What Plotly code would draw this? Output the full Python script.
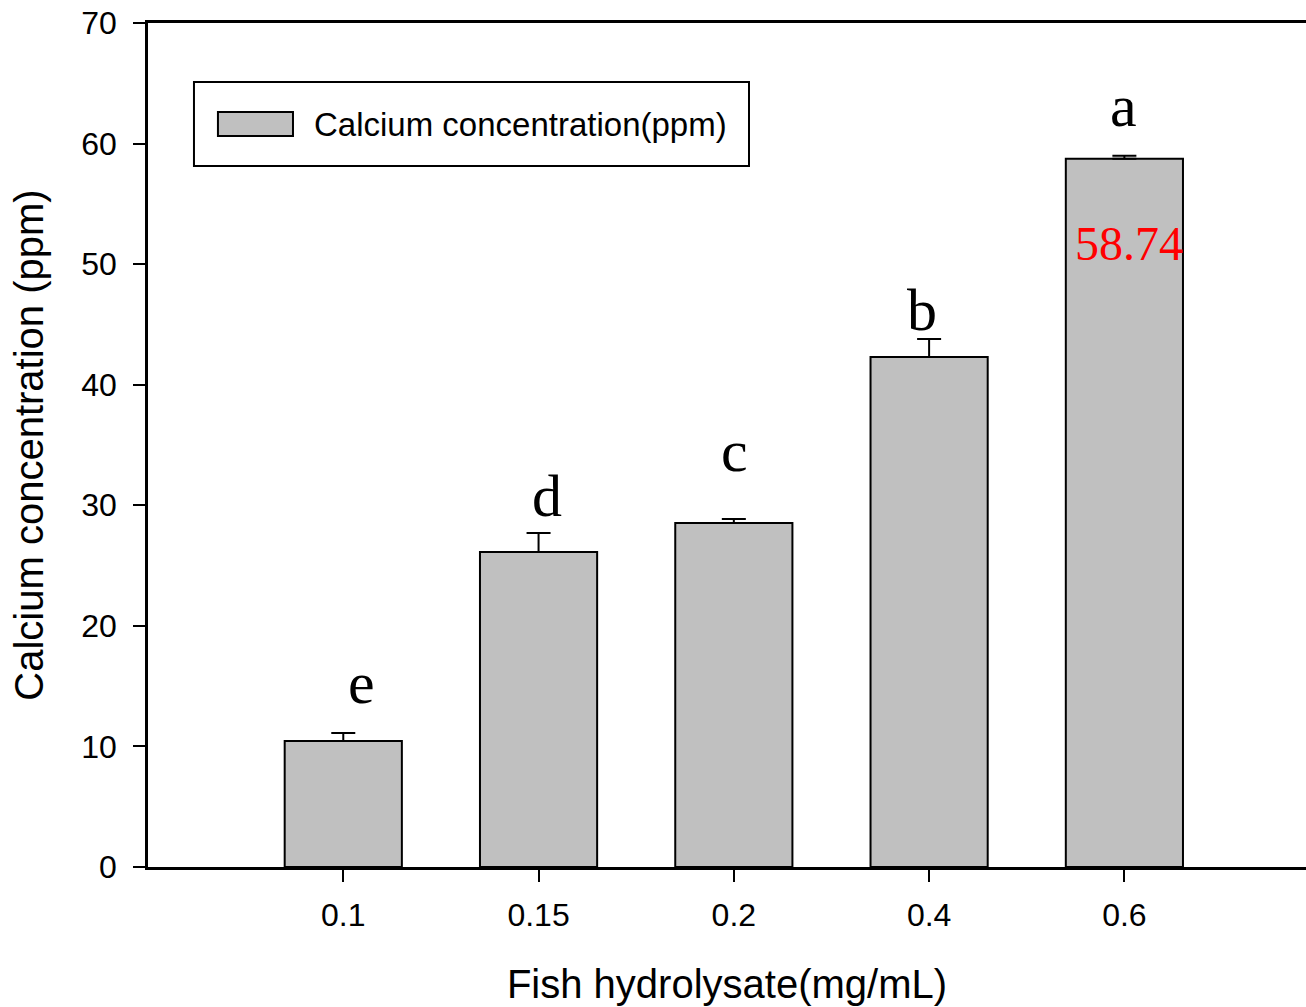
import plotly.graph_objects as go

# ---- data ----
categories = ["0.1", "0.15", "0.2", "0.4", "0.6"]
calcium_ppm = [10.45, 26.13, 28.53, 42.30, 58.74]
error_ppm = [0.66, 1.58, 0.33, 1.49, 0.25]
sig_letters = ["e", "d", "c", "b", "a"]
value_label = "58.74"
series_name = "Calcium concentration(ppm)"
y_ticks = [0, 10, 20, 30, 40, 50, 60, 70]

# ---- styling (pixel nudges for annotation placement) ----
letter_yshift = [50, 37, 68, 29, 50]
letter_xshift = [18, 8, 1, -7, -1]

SANS = "Arial, Liberation Sans, sans-serif"
SERIF = "Times New Roman, Liberation Serif, serif"

fig = go.Figure()
fig.add_trace(go.Bar(
    x=categories,
    y=calcium_ppm,
    name=series_name,
    width=0.6,
    marker=dict(color="#c0c0c0", line=dict(color="black", width=2)),
    error_y=dict(type="data", symmetric=False, array=error_ppm,
                 arrayminus=[0] * len(error_ppm),
                 color="black", thickness=2, width=12),
    showlegend=False,
))

annotations = []
for i, (v, e, lab, ys, xs) in enumerate(zip(calcium_ppm, error_ppm,
                                            sig_letters, letter_yshift, letter_xshift)):
    annotations.append(dict(
        x=i, y=v + e, xref="x", yref="y", text=lab, showarrow=False,
        yanchor="middle", xanchor="center", yshift=ys, xshift=xs,
        font=dict(family=SERIF, size=60, color="black"),
    ))

# red value label inside the tallest bar
annotations.append(dict(
    x=len(categories) - 1, y=calcium_ppm[-1], xref="x", yref="y", text=value_label,
    showarrow=False, yanchor="middle", xanchor="center", yshift=-85, xshift=5,
    font=dict(family=SERIF, size=48, color="red"),
))

# manual legend text
annotations.append(dict(
    x=0.1416, y=0.880, xref="paper", yref="paper", text=series_name,
    showarrow=False, xanchor="left", yanchor="middle",
    font=dict(family=SANS, size=33, color="black"),
))

shapes = [
    # legend frame
    dict(type="rect", xref="paper", yref="paper", x0=0.0397, x1=0.519,
         y0=0.8306, y1=0.930, line=dict(color="black", width=2),
         fillcolor="white", layer="above"),
    # legend swatch
    dict(type="rect", xref="paper", yref="paper", x0=0.0604, x1=0.1252,
         y0=0.8661, y1=0.8945, line=dict(color="black", width=2),
         fillcolor="#c0c0c0", layer="above"),
]

fig.update_layout(
    width=1306, height=1007,
    margin=dict(l=148, r=0, t=23, b=140),
    paper_bgcolor="white", plot_bgcolor="white",
    font=dict(family=SANS, color="black"),
    annotations=annotations,
    shapes=shapes,
    bargap=0.4,
)
fig.update_xaxes(
    type="category", range=[-1, 4.93],
    showline=True, linecolor="black", linewidth=2.5, mirror=True,
    ticks="outside", ticklen=12, tickwidth=2, tickcolor="black",
    tickfont=dict(family=SANS, size=32), ticklabelstandoff=6,
    showgrid=False, zeroline=False,
    title=dict(text="Fish hydrolysate(mg/mL)", font=dict(family=SANS, size=40), standoff=38),
)
fig.update_yaxes(
    range=[0, 70], tickvals=y_ticks,
    showline=True, linecolor="black", linewidth=2.5,
    ticks="outside", ticklen=12, tickwidth=2, tickcolor="black",
    tickfont=dict(family=SANS, size=32), ticklabelstandoff=10,
    showgrid=False, zeroline=False,
    title=dict(text="Calcium concentration (ppm)", font=dict(family=SANS, size=40), standoff=26),
)

fig.write_html("out.html")
